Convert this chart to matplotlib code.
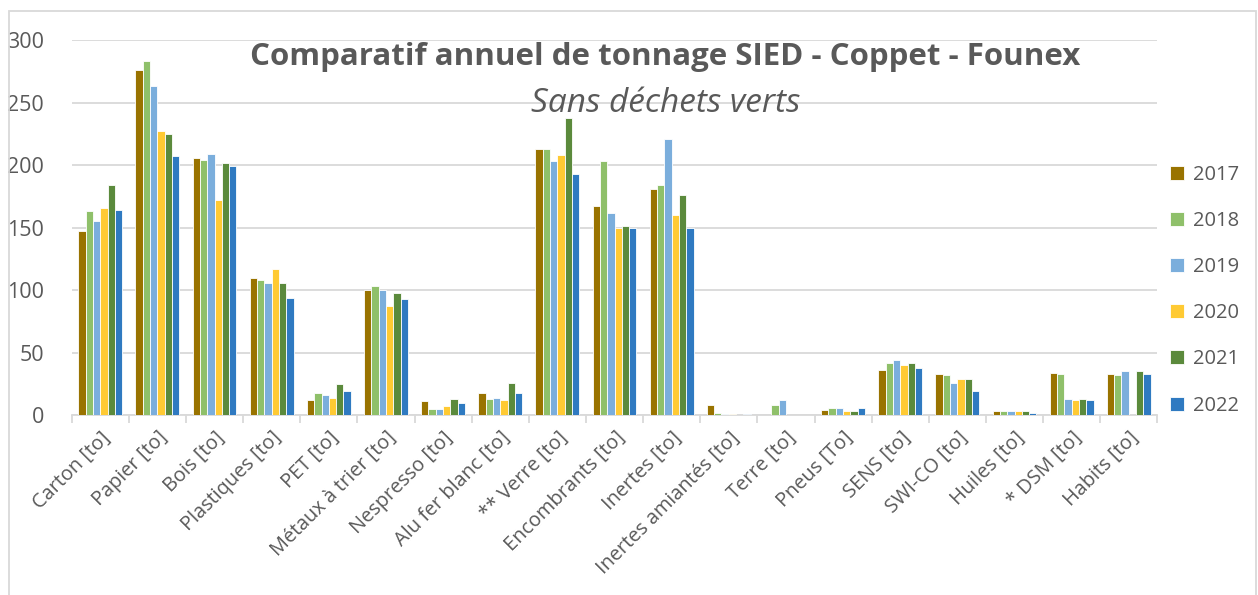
import numpy as np
import matplotlib.pyplot as plt
from matplotlib.patches import Rectangle

plt.rcParams['font.family'] = ['Open Sans', 'DejaVu Sans']

categories = ["Carton [to]", "Papier [to]", "Bois [to]", "Plastiques [to]", "PET [to]",
              "Métaux à trier [to]", "Nespresso [to]", "Alu fer blanc [to]", "** Verre [to]",
              "Encombrants [to]", "Inertes [to]", "Inertes amiantés [to]", "Terre [to]",
              "Pneus [To]", "SENS [to]", "SWI-CO [to]", "Huiles [to]", "* DSM [to]", "Habits [to]"]

years = ["2017", "2018", "2019", "2020", "2021", "2022"]

v2017 = [147, 276, 206, 110, 12, 100, 11, 18, 213, 167, 181, 8, 0, 4, 36, 33, 3, 34, 33]
v2018 = [163, 283, 204, 108, 18, 103, 5, 13, 213, 203, 184, 2, 8, 6, 42, 32, 3, 33, 32]
v2019 = [155, 263, 209, 106, 16, 100, 5, 14, 203, 162, 221, 1, 12, 6, 44, 26, 3, 13, 35]
v2020 = [166, 227, 172, 117, 14, 87, 7, 12, 208, 150, 160, 1, 0, 3, 40, 29, 3, 12, 0]
v2021 = [184, 225, 202, 106, 25, 98, 13, 26, 238, 151, 176, 0, 0, 3, 42, 29, 3, 13, 35]
v2022 = [164, 207, 199, 94, 19, 93, 10, 18, 193, 150, 150, 1, 0, 6, 38, 19, 2, 12, 33]

series = [v2017, v2018, v2019, v2020, v2021, v2022]
colors = ["#997300", "#8FC06A", "#7BAEDC", "#FFCA33", "#5B8A3C", "#2F7AC1"]

fig = plt.figure(figsize=(12.58, 5.95), dpi=100)
ax = fig.add_axes([0.057, 0.3025, 0.863, 0.63])

x = np.arange(len(categories))
w = 0.128
for i, (vals, c, lab) in enumerate(zip(series, colors, years)):
    ax.bar(x + (i - 2.5) * w, vals, width=w, color=c, edgecolor="white",
           linewidth=0.6, label=lab, zorder=3)

ax.set_xlim(-0.5, len(categories) - 0.5)
ax.set_ylim(0, 300)
ax.set_yticks(range(0, 301, 50))
ax.grid(axis="y", color="#d9d9d9", linewidth=1.3, zorder=0)
for s in ["top", "right", "left"]:
    ax.spines[s].set_visible(False)
ax.spines["bottom"].set_color("#d9d9d9")
ax.spines["bottom"].set_linewidth(1.3)

ax.set_xticks(x)
ax.set_xticklabels(categories, rotation=45, ha="right", rotation_mode="anchor",
                   fontsize=14.3, color="#595959")
ax.tick_params(axis="x", length=0, pad=9)
ax.set_xticks(np.arange(-0.5, len(categories), 1), minor=True)
ax.tick_params(axis="x", which="minor", length=6, color="#d9d9d9", width=1.3)
ax.tick_params(axis="y", length=0, labelsize=15.5, labelcolor="#595959", pad=20)

fig.text(0.529, 0.904, "Comparatif annuel de tonnage SIED - Coppet - Founex",
         ha="center", va="center", fontsize=22.5, fontweight="bold", color="#595959")
fig.text(0.529, 0.826, "Sans déchets verts", ha="center", va="center",
         fontsize=24, style="italic", color="#595959")

ax.legend(loc="center left", bbox_to_anchor=(0.995, 0.333), frameon=False,
          fontsize=14.5, labelcolor="#595959", handlelength=0.7, handleheight=0.7,
          handletextpad=0.45, labelspacing=1.3)

fig.patches.append(Rectangle((9 / 1258, -0.01), 1247 / 1258, 1 - 11 / 595 + 0.01,
                             transform=fig.transFigure, fill=False,
                             edgecolor="#d9d9d9", linewidth=1.3))

fig.savefig("out.png", dpi=100)
